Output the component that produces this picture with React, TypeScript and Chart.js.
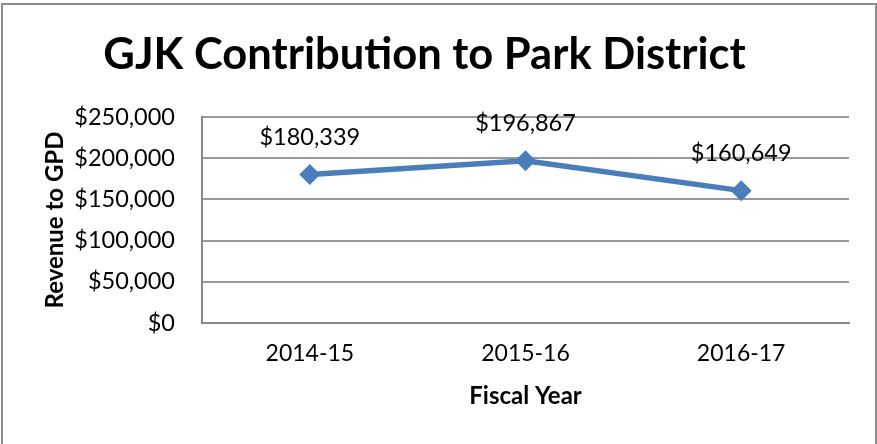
import React, { useEffect, useRef } from "react";
import { Chart, registerables } from "chart.js";

Chart.register(...registerables);

const categories = ["2014-15", "2015-16", "2016-17"];
const revenue = [180339, 196867, 160649];
const yTicksMin = 0;
const yTicksMax = 250000;
const yTickStep = 50000;

const FONT = "Lato, 'DejaVu Sans', sans-serif";
const fmt = (v: number) => "$" + Number(v).toLocaleString("en-US");

const frameAndLabels = {
  id: "frameAndLabels",
  beforeDraw(chart: any) {
    const ctx = chart.ctx;
    ctx.save();
    ctx.fillStyle = "#ffffff";
    ctx.fillRect(0, 0, chart.width, chart.height);
    ctx.strokeStyle = "#8c8c8c";
    ctx.lineWidth = 2;
    ctx.strokeRect(2, 4, 874, 500);
    ctx.restore();
  },
  afterDatasetsDraw(chart: any) {
    const ctx = chart.ctx;
    const meta = chart.getDatasetMeta(0);
    const data = chart.data.datasets[0].data as number[];
    ctx.save();
    ctx.font = `23.5px ${FONT}`;
    ctx.fillStyle = "#000000";
    ctx.textAlign = "center";
    ctx.textBaseline = "middle";
    meta.data.forEach((pt: any, i: number) => {
      ctx.fillText(fmt(data[i]), pt.x, pt.y - 37);
    });
    ctx.restore();
  },
};

export default function App() {
  const ref = useRef<HTMLCanvasElement | null>(null);

  useEffect(() => {
    if (!ref.current) return;
    const chart = new Chart(ref.current, {
      type: "line",
      data: {
        labels: categories,
        datasets: [
          {
            data: revenue,
            borderColor: "#4A7EBB",
            backgroundColor: "#4A7EBB",
            borderWidth: 5.5,
            pointStyle: "rectRot",
            pointRadius: 10.5,
            pointHoverRadius: 10.5,
            pointBorderWidth: 0,
            tension: 0,
          },
        ],
      },
      options: {
        responsive: false,
        animation: false,
        layout: { padding: { left: 0, right: 28, top: 0, bottom: 0 } },
        plugins: {
          legend: { display: false },
          tooltip: { enabled: false },
          title: {
            display: true,
            text: "GJK Contribution to Park District",
            color: "#000000",
            font: { family: FONT, size: 43.5, weight: "bold" },
            padding: { top: 29, bottom: 35.8 },
          },
        },
        scales: {
          x: {
            offset: true,
            grid: { display: false, drawTicks: false },
            border: { display: true, color: "#888888", width: 2 },
            ticks: {
              color: "#000000",
              font: { family: FONT, size: 23 },
              padding: 17,
            },
            title: {
              display: true,
              text: "Fiscal Year",
              color: "#000000",
              font: { family: FONT, size: 24, weight: "bold" },
              padding: { top: 0, bottom: 33 },
            },
            afterFit(scale: any) {
              scale.height = 121;
            },
          },
          y: {
            min: yTicksMin,
            max: yTicksMax,
            grid: { color: "#999999", lineWidth: 2, drawTicks: false },
            border: { display: true, color: "#888888", width: 2 },
            ticks: {
              stepSize: yTickStep,
              color: "#000000",
              font: { family: FONT, size: 23.5 },
              padding: 27,
              callback: (v: any) => fmt(v),
            },
            title: {
              display: true,
              text: "Revenue to GPD",
              color: "#000000",
              font: { family: FONT, size: 24, weight: "bold" },
              padding: { top: 41, bottom: 0 },
            },
            afterFit(scale: any) {
              scale.width = 202;
            },
          },
        },
      },
      plugins: [frameAndLabels],
    });
    return () => chart.destroy();
  }, []);

  return (
    <div style={{ position: "absolute", left: 0, top: 0, width: 877, height: 444, background: "#fff" }}>
      <canvas ref={ref} width={877} height={444} style={{ display: "block" }} />
    </div>
  );
}
